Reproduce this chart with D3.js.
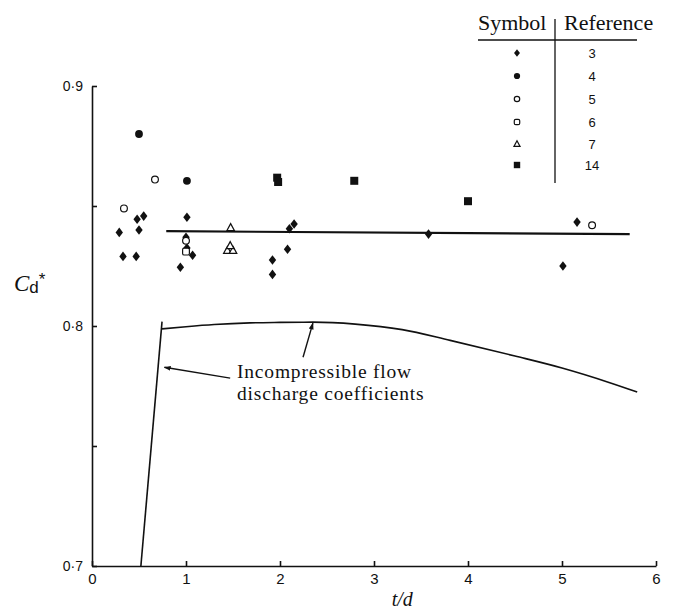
<!DOCTYPE html>
<html>
<head>
<meta charset="utf-8">
<script src="https://cdn.jsdelivr.net/npm/d3@7"></script>
<style>
  body { margin: 0; background: #fff; }
  svg { display: block; }
  .tick text { font-family: "Liberation Sans", Arial, sans-serif; font-size: 15px; fill: #111; }
  .serif { font-family: "Liberation Serif", "Times New Roman", serif; fill: #111; }
</style>
</head>
<body>
<div id="chart"></div>
<script>
// data: t/d vs Cd*, by reference number
const ref3  = [[0.29,0.839],[0.33,0.829],[0.47,0.829],[0.48,0.8445],[0.50,0.840],[0.55,0.8458],
               [0.94,0.8245],[1.01,0.8453],[1.00,0.837],[1.01,0.8325],[1.07,0.8295],
               [1.92,0.8275],[1.92,0.8215],[2.08,0.832],[2.10,0.8405],[2.15,0.8425],
               [3.58,0.8383],[5.01,0.825],[5.16,0.8433]];
const ref4  = [[0.50,0.880],[1.01,0.8605]];
const ref5  = [[0.34,0.849],[0.67,0.861],[1.00,0.8355],[5.32,0.842]];
const ref6  = [[1.00,0.831]];
const ref7  = [[1.475,0.841],[1.44,0.8315],[1.50,0.8315],[1.47,0.8335]];
const ref14 = [[1.97,0.8618],[1.98,0.860],[2.79,0.8605],[4.00,0.852]];

// mean line through the compressible results
const meanT = [0.79, 5.72];
const meanC = [0.8395, 0.8383];

// incompressible discharge coefficient curve
const steepT = [0.52, 0.745];
const steepC = [0.700, 0.8018];
const curveT = [0.745, 1.0, 1.3, 1.68, 2.0, 2.35, 2.8, 3.3, 3.81, 4.5, 5.0, 5.5, 5.8];
const curveC = [0.7988, 0.7997, 0.8006, 0.8013, 0.8015, 0.8016, 0.8008, 0.7985, 0.794, 0.7875, 0.7825, 0.7765, 0.7725];

const xTicks = [0, 1, 2, 3, 4, 5, 6];
const yTicks = [0.7, 0.8, 0.9];
const yMinor = [0.75, 0.85];

const legendRefs = ["3", "4", "5", "6", "7", "14"];
const legendShapes = ["diamond", "dot", "circle", "square", "triangle", "block"];

const W = 673, H = 611;
const svg = d3.select("#chart").append("svg").attr("width", W).attr("height", H);

const x = d3.scaleLinear().domain([0, 6]).range([92, 656]);
const y = d3.scaleLinear().domain([0.7, 0.9]).range([566, 86]);

// axes, ticks pointing inward
const fmt = d => d3.format(".1f")(d).replace(".", "\u00b7");
svg.append("g")
  .attr("transform", `translate(0,${y(0.7)})`)
  .call(d3.axisBottom(x).tickValues(xTicks).tickFormat(d3.format("d")).tickSize(-5).tickSizeOuter(0).tickPadding(7))
  .call(g => g.selectAll("line, path").attr("stroke", "#111").attr("stroke-width", 1.6));

svg.append("g")
  .attr("transform", `translate(${x(0)},0)`)
  .call(d3.axisLeft(y).tickValues(yTicks.concat(yMinor))
    .tickFormat(d => yTicks.includes(d) ? fmt(d) : "").tickSize(-5).tickSizeOuter(0).tickPadding(9))
  .call(g => g.selectAll("line, path").attr("stroke", "#111").attr("stroke-width", 1.6))
  .call(g => g.selectAll("text").style("font-size", "14px"));

// axis titles
svg.append("text").attr("class", "serif")
  .attr("x", x(3.3)).attr("y", 606).attr("text-anchor", "middle")
  .style("font-size", "20px").style("font-style", "italic").text("t/d");

const yl = svg.append("text").attr("class", "serif").attr("x", 14).attr("y", 291).style("font-size", "23px");
yl.append("tspan").style("font-style", "italic").text("C");
yl.append("tspan").attr("dy", 2).style("font-family", "Liberation Sans, Arial, sans-serif").style("font-size", "17px").text("d");
yl.append("tspan").attr("dy", -8).style("font-family", "Liberation Sans, Arial, sans-serif").style("font-size", "17px").text("*");

// lines
const line = d3.line().x(d => x(d[0])).y(d => y(d[1]));
const zip = (a, b) => a.map((v, i) => [v, b[i]]);

svg.append("path").attr("d", line(zip(meanT, meanC)))
  .attr("fill", "none").attr("stroke", "#111").attr("stroke-width", 2.2);

svg.append("path").attr("d", line(zip(steepT, steepC)))
  .attr("fill", "none").attr("stroke", "#111").attr("stroke-width", 1.6);
svg.append("path").attr("d", d3.line().curve(d3.curveMonotoneX).x(d => x(d[0])).y(d => y(d[1]))(zip(curveT, curveC)))
  .attr("fill", "none").attr("stroke", "#111").attr("stroke-width", 1.6);

// annotation
svg.append("defs").append("marker")
  .attr("id", "arr").attr("viewBox", "0 0 10 10").attr("refX", 9).attr("refY", 5)
  .attr("markerWidth", 7).attr("markerHeight", 7).attr("orient", "auto-start-reverse")
  .attr("markerUnits", "userSpaceOnUse")
  .append("path").attr("d", "M0,1.5 L10,5 L0,8.5 Z").attr("fill", "#111");

const arrows = [
  [[1.47, 0.7783], [0.77, 0.7828]],
  [[2.245, 0.787], [2.35, 0.8012]]
];
arrows.forEach(a => {
  svg.append("line")
    .attr("x1", x(a[0][0])).attr("y1", y(a[0][1]))
    .attr("x2", x(a[1][0])).attr("y2", y(a[1][1]))
    .attr("stroke", "#111").attr("stroke-width", 1.4).attr("marker-end", "url(#arr)");
});

const noteLines = ["Incompressible flow", "discharge coefficients"];
const noteC = [0.7783, 0.7692];
noteLines.forEach((t, i) => {
  svg.append("text").attr("class", "serif")
    .attr("x", x(1.543)).attr("y", y(noteC[i]))
    .style("font-size", "19.5px").style("letter-spacing", "0.8px").text(t);
});

// markers
function drawShape(g, shape, cx, cy, s) {
  const k = s || 1;
  if (shape === "diamond") {
    g.append("path").attr("d", `M${cx},${cy - 4.8 * k} L${cx + 3.7 * k},${cy} L${cx},${cy + 4.8 * k} L${cx - 3.7 * k},${cy} Z`).attr("fill", "#111");
  } else if (shape === "dot") {
    g.append("circle").attr("cx", cx).attr("cy", cy).attr("r", 3.9 * k).attr("fill", "#111");
  } else if (shape === "circle") {
    g.append("circle").attr("cx", cx).attr("cy", cy).attr("r", 3.4 * k).attr("fill", "#fff").attr("stroke", "#111").attr("stroke-width", 1.2);
  } else if (shape === "square") {
    g.append("rect").attr("x", cx - 3.4 * k).attr("y", cy - 3.4 * k).attr("width", 6.8 * k).attr("height", 6.8 * k)
      .attr("rx", 1.5).attr("fill", "#fff").attr("stroke", "#111").attr("stroke-width", 1.2);
  } else if (shape === "triangle") {
    g.append("path").attr("d", `M${cx},${cy - 4 * k} L${cx + 3.8 * k},${cy + 3 * k} L${cx - 3.8 * k},${cy + 3 * k} Z`)
      .attr("fill", "#fff").attr("stroke", "#111").attr("stroke-width", 1.2);
  } else if (shape === "block") {
    g.append("rect").attr("x", cx - 4 * k).attr("y", cy - 4 * k).attr("width", 8 * k).attr("height", 8 * k).attr("fill", "#111");
  }
}

const series = [[ref3, "diamond"], [ref4, "dot"], [ref5, "circle"], [ref6, "square"], [ref7, "triangle"], [ref14, "block"]];
const pts = svg.append("g");
series.forEach(([data, shape]) => {
  data.forEach(d => drawShape(pts, shape, x(d[0]), y(d[1])));
});

// legend table
const lg = svg.append("g");
lg.append("text").attr("class", "serif").attr("x", 478).attr("y", 30).style("font-size", "22px").text("Symbol");
lg.append("text").attr("class", "serif").attr("x", 564).attr("y", 30).style("font-size", "22px").text("Reference");
lg.append("line").attr("x1", 478).attr("x2", 637).attr("y1", 40).attr("y2", 40).attr("stroke", "#111").attr("stroke-width", 1.3);
lg.append("line").attr("x1", 555).attr("x2", 555).attr("y1", 19).attr("y2", 183).attr("stroke", "#111").attr("stroke-width", 1.3);
const rowY = [53, 76, 99, 122, 144, 165];
legendRefs.forEach((r, i) => {
  drawShape(lg, legendShapes[i], 517, rowY[i], 0.8);
  lg.append("text").attr("x", 592).attr("y", rowY[i] + 5).attr("text-anchor", "middle")
    .style("font-family", "Liberation Sans, Arial, sans-serif").style("font-size", "13px").style("fill", "#111")
    .text(r);
});
</script>
</body>
</html>
